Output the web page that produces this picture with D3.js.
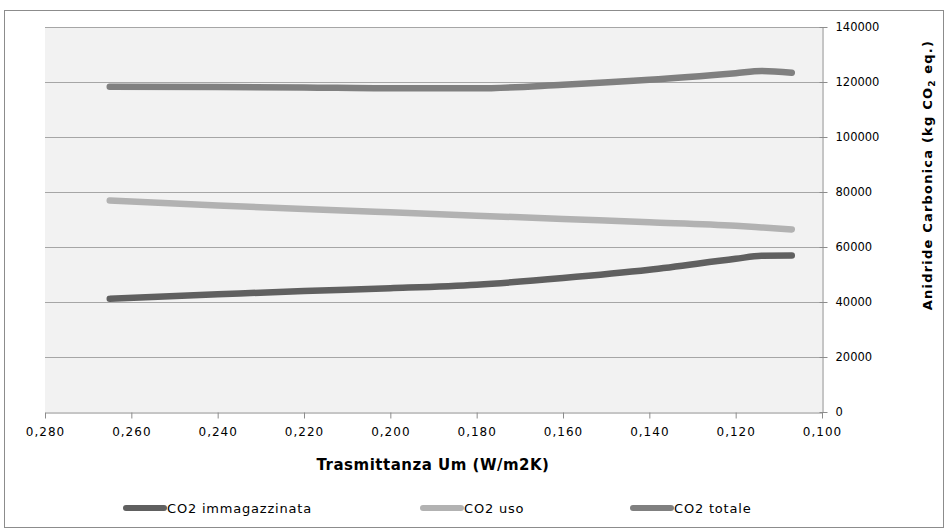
<!DOCTYPE html>
<html>
<head>
<meta charset="utf-8">
<script src="https://cdn.jsdelivr.net/npm/d3@7"></script>
<style>
  body { margin: 0; background: #fff; }
  svg { display: block; }
</style>
</head>
<body>
<svg width="948" height="532"></svg>
<script>
// values
var trasmittanza = [0.265, 0.240, 0.220, 0.200, 0.180, 0.160, 0.140, 0.120, 0.114, 0.107];
var co2Immagazzinata = [41200, 42800, 44000, 45000, 46300, 48700, 51700, 55700, 56800, 56900];
var co2Uso = [76900, 75100, 73800, 72600, 71400, 70200, 69000, 67700, 67100, 66400];
var co2Totale = [118300, 118200, 118000, 117700, 117700, 119000, 120800, 123200, 124000, 123400];
var xTicks = [0.28, 0.26, 0.24, 0.22, 0.20, 0.18, 0.16, 0.14, 0.12, 0.10];
var yTicks = [0, 20000, 40000, 60000, 80000, 100000, 120000, 140000];

var series = [
  { name: "CO2 immagazzinata", values: co2Immagazzinata, color: "#606060" },
  { name: "CO2 uso", values: co2Uso, color: "#b2b2b2" },
  { name: "CO2 totale", values: co2Totale, color: "#808080" }
];

var svg = d3.select("svg");
// plot area bounds (note: "top" is reserved on window)
var plotL = 45, plotR = 822, plotT = 27, plotB = 412;

var x = d3.scaleLinear().domain([0.28, 0.10]).range([plotL, plotR]);
var y = d3.scaleLinear().domain([0, 140000]).range([plotB, plotT]);

// outer frame
svg.append("rect")
  .attr("x", 4.5).attr("y", 10.5)
  .attr("width", 939).attr("height", 517)
  .attr("fill", "#fff").attr("stroke", "#8c8c8c");

// plot area
svg.append("rect")
  .attr("x", plotL).attr("y", plotT)
  .attr("width", plotR - plotL).attr("height", plotB - plotT)
  .attr("fill", "#f2f2f2");

// gridlines
svg.append("g").selectAll("line")
  .data(yTicks.slice(1))
  .join("line")
  .attr("x1", plotL).attr("x2", plotR)
  .attr("y1", function(d) { return Math.round(y(d)) + 0.5; })
  .attr("y2", function(d) { return Math.round(y(d)) + 0.5; })
  .attr("stroke", "#a6a6a6");

// x axis
var xAxis = svg.append("g")
  .attr("transform", "translate(0," + (plotB + 0.5) + ")")
  .call(d3.axisBottom(x).tickValues(xTicks).tickSize(6).tickSizeOuter(0)
    .tickFormat(function(d) { return d3.format(".3f")(d).replace(".", ","); }));
xAxis.select(".domain").attr("stroke", "#8c8c8c");
xAxis.selectAll(".tick line").attr("stroke", "#8c8c8c");
xAxis.selectAll("text")
  .attr("y", 15)
  .attr("fill", "#000")
  .style("font-family", "'DejaVu Sans', sans-serif")
  .style("font-size", "12px")
  .style("letter-spacing", "1px");

// y axis on the right
var yAxis = svg.append("g")
  .attr("transform", "translate(" + (plotR + 0.5) + ",0)")
  .call(d3.axisRight(y).tickValues(yTicks).tickSize(5).tickSizeOuter(0)
    .tickFormat(d3.format("d")));
yAxis.select(".domain").attr("stroke", "#8c8c8c");
yAxis.selectAll(".tick line").attr("stroke", "#8c8c8c").attr("x1", -3);
yAxis.selectAll("text")
  .attr("x", 13)
  .attr("fill", "#000")
  .style("font-family", "'DejaVu Sans', Verdana, sans-serif")
  .style("font-size", "11.5px");

// lines
var line = d3.line()
  .x(function(d, i) { return x(trasmittanza[i]); })
  .y(function(d) { return y(d); })
  .curve(d3.curveMonotoneX);

svg.append("g").selectAll("path")
  .data(series)
  .join("path")
  .attr("d", function(s) { return line(s.values); })
  .attr("fill", "none")
  .attr("stroke", function(s) { return s.color; })
  .attr("stroke-width", 6.5)
  .attr("stroke-linecap", "round")
  .attr("stroke-linejoin", "round");

// axis titles
svg.append("text")
  .attr("x", 433).attr("y", 470)
  .attr("text-anchor", "middle")
  .style("font-family", "'DejaVu Sans', sans-serif")
  .style("font-weight", "bold")
  .style("font-size", "15px")
  .style("letter-spacing", "0.5px")
  .text("Trasmittanza Um (W/m2K)");

var yt = svg.append("text")
  .attr("transform", "translate(932,175) rotate(-90)")
  .attr("text-anchor", "middle")
  .style("font-family", "'DejaVu Sans', Verdana, sans-serif")
  .style("font-weight", "bold")
  .style("font-size", "13px")
  .style("letter-spacing", "1.2px");
yt.append("tspan").text("Anidride Carbonica (kg CO");
yt.append("tspan").attr("dy", 3).style("font-size", "9px").text("2");
yt.append("tspan").attr("dy", -3).text(" eq.)");

// legend
var legendX = [123, 420, 630];
var lg = svg.append("g").selectAll("g")
  .data(series)
  .join("g")
  .attr("transform", function(s, i) { return "translate(" + legendX[i] + ",508)"; });
lg.append("line")
  .attr("x1", 3).attr("x2", 41)
  .attr("stroke", function(s) { return s.color; })
  .attr("stroke-width", 6)
  .attr("stroke-linecap", "round");
lg.append("text")
  .attr("x", 44).attr("y", 5)
  .style("font-family", "'DejaVu Sans', sans-serif")
  .style("font-size", "13px")
  .style("letter-spacing", "0.8px")
  .text(function(s) { return s.name; });
</script>
</body>
</html>
